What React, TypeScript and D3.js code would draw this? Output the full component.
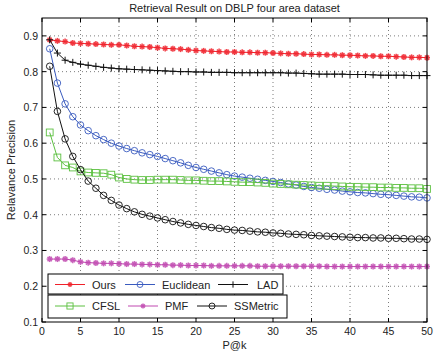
import React from "react";
import * as d3 from "d3";

const ks = d3.range(1, 51);
const xTicks = [0, 5, 10, 15, 20, 25, 30, 35, 40, 45, 50];
const yTicks = [0.1, 0.2, 0.3, 0.4, 0.5, 0.6, 0.7, 0.8, 0.9];

const ours = [
  0.889, 0.886, 0.884, 0.88, 0.879, 0.878, 0.877, 0.876, 0.875, 0.875,
  0.873, 0.871, 0.87, 0.869, 0.867, 0.865, 0.864, 0.863, 0.861, 0.859,
  0.858, 0.857, 0.856, 0.855, 0.855, 0.854, 0.854, 0.853, 0.853, 0.852,
  0.851, 0.85, 0.85, 0.849, 0.848, 0.848, 0.847, 0.847, 0.846, 0.846,
  0.845, 0.844, 0.844, 0.843, 0.843, 0.842, 0.841, 0.84, 0.84, 0.839,
];
const lad = [
  0.889, 0.852, 0.832, 0.826, 0.821, 0.818, 0.815, 0.812, 0.81, 0.808,
  0.807, 0.806, 0.805, 0.804, 0.803, 0.802, 0.801, 0.8, 0.8, 0.799,
  0.799, 0.798, 0.798, 0.798, 0.797, 0.797, 0.797, 0.797, 0.797, 0.797,
  0.797, 0.796, 0.796, 0.795, 0.794, 0.793, 0.793, 0.793, 0.793, 0.792,
  0.792, 0.792, 0.791, 0.79, 0.79, 0.79, 0.79, 0.789, 0.789, 0.789,
];
const euclidean = [
  0.864, 0.768, 0.71, 0.674, 0.651, 0.635, 0.621, 0.61, 0.6, 0.592,
  0.585, 0.579, 0.573, 0.568, 0.563, 0.557, 0.551, 0.545, 0.538, 0.532,
  0.527, 0.522, 0.517, 0.512, 0.508, 0.505, 0.502, 0.499, 0.496, 0.493,
  0.49, 0.486, 0.483, 0.479, 0.476, 0.474, 0.471, 0.469, 0.466, 0.464,
  0.462, 0.461, 0.459, 0.457, 0.456, 0.454, 0.452, 0.45, 0.449, 0.447,
];
const cfsl = [
  0.63, 0.56, 0.538, 0.532, 0.521, 0.518, 0.517, 0.516, 0.512, 0.504,
  0.5, 0.498, 0.497, 0.497, 0.498, 0.498, 0.498, 0.497, 0.496, 0.496,
  0.495, 0.494, 0.494, 0.493, 0.492, 0.491, 0.491, 0.49, 0.489, 0.487,
  0.486, 0.485, 0.484, 0.483, 0.482, 0.481, 0.481, 0.48, 0.479, 0.478,
  0.478, 0.477, 0.477, 0.476, 0.476, 0.475, 0.475, 0.474, 0.474, 0.472,
];
const pmf = [
  0.276, 0.276, 0.276, 0.273, 0.268, 0.266, 0.265, 0.264, 0.264, 0.263,
  0.262, 0.262, 0.261, 0.261, 0.26, 0.26, 0.259, 0.259, 0.258, 0.258,
  0.258, 0.257, 0.257, 0.257, 0.257, 0.257, 0.257, 0.256, 0.256, 0.256,
  0.256, 0.256, 0.256, 0.256, 0.256, 0.256, 0.255, 0.255, 0.255, 0.255,
  0.255, 0.255, 0.255, 0.255, 0.255, 0.255, 0.255, 0.255, 0.255, 0.255,
];
const ssmetric = [
  0.815, 0.689, 0.612, 0.563, 0.526, 0.494, 0.474, 0.454, 0.44, 0.427,
  0.417, 0.408, 0.401, 0.396, 0.391, 0.386, 0.381, 0.377, 0.373, 0.37,
  0.367, 0.364, 0.362, 0.359, 0.357, 0.356, 0.354, 0.352, 0.351, 0.349,
  0.348, 0.346, 0.345, 0.344, 0.342, 0.341, 0.34, 0.339, 0.338, 0.337,
  0.336, 0.336, 0.335, 0.335, 0.334, 0.334, 0.333, 0.332, 0.332, 0.331,
];

type Marker = "star" | "circle" | "plus" | "square";
const seriesList: { name: string; values: number[]; color: string; marker: Marker }[] = [
  { name: "Ours", values: ours, color: "#f0202a", marker: "star" },
  { name: "Euclidean", values: euclidean, color: "#3a5bbf", marker: "circle" },
  { name: "LAD", values: lad, color: "#111111", marker: "plus" },
  { name: "CFSL", values: cfsl, color: "#5cc040", marker: "square" },
  { name: "PMF", values: pmf, color: "#c048b0", marker: "star" },
  { name: "SSMetric", values: ssmetric, color: "#111111", marker: "circle" },
];

const W = 434;
const H = 354;
const L = 42;
const R = 427;
const T = 18;
const B = 322;
const FONT = "'Liberation Sans', Arial, Helvetica, sans-serif";

function MarkerShape({ type, x, y, color, size = 1 }: { type: Marker; x: number; y: number; color: string; size?: number }) {
  if (type === "circle") {
    return <circle cx={x} cy={y} r={3.3 * size} fill="none" stroke={color} strokeWidth={0.9} />;
  }
  if (type === "square") {
    const s = 3.4 * size;
    return <rect x={x - s} y={y - s} width={2 * s} height={2 * s} fill="none" stroke={color} strokeWidth={0.9} />;
  }
  if (type === "plus") {
    const s = 3.5 * size;
    return (
      <g stroke={color} strokeWidth={1}>
        <line x1={x - s} y1={y} x2={x + s} y2={y} />
        <line x1={x} y1={y - s} x2={x} y2={y + s} />
      </g>
    );
  }
  const s = 3 * size;
  const d = s * 0.72;
  return (
    <g stroke={color} strokeWidth={1.5} opacity={0.85}>
      <line x1={x - s} y1={y} x2={x + s} y2={y} />
      <line x1={x} y1={y - s} x2={x} y2={y + s} />
      <line x1={x - d} y1={y - d} x2={x + d} y2={y + d} />
      <line x1={x - d} y1={y + d} x2={x + d} y2={y - d} />
      <circle cx={x} cy={y} r={s * 0.55} fill={color} stroke="none" />
    </g>
  );
}

export default function App() {
  const x = d3.scaleLinear().domain([0, 50]).range([L, R]);
  const y = d3.scaleLinear().domain([0.1, 0.95]).range([B, T]);
  const line = d3
    .line<number>()
    .x((_, i) => x(ks[i]))
    .y((d) => y(d));

  const legendRows = [
    [
      { s: seriesList[0], lx: 55, tx: 92 },
      { s: seriesList[1], lx: 125, tx: 162 },
      { s: seriesList[2], lx: 218, tx: 257 },
    ],
    [
      { s: seriesList[3], lx: 55, tx: 92 },
      { s: seriesList[4], lx: 128, tx: 165 },
      { s: seriesList[5], lx: 197, tx: 234 },
    ],
  ];

  return (
    <svg width={W} height={H} style={{ position: "absolute", left: 0, top: 0, background: "#fff" }} fontFamily={FONT}>
      <rect x={0} y={0} width={W} height={H} fill="#fff" />
      {/* grid */}
      <g stroke="#444" strokeWidth={0.7} strokeDasharray="1,3">
        {xTicks.slice(1, -1).map((t) => (
          <line key={"gx" + t} x1={x(t)} x2={x(t)} y1={T} y2={B} />
        ))}
        {yTicks.slice(1).map((t) => (
          <line key={"gy" + t} x1={L} x2={R} y1={y(t)} y2={y(t)} />
        ))}
      </g>
      {/* ticks */}
      <g stroke="#000" strokeWidth={1}>
        {xTicks.map((t) => (
          <g key={"tx" + t}>
            <line x1={x(t)} x2={x(t)} y1={B} y2={B - 4} />
            <line x1={x(t)} x2={x(t)} y1={T} y2={T + 4} />
          </g>
        ))}
        {yTicks.map((t) => (
          <g key={"ty" + t}>
            <line x1={L} x2={L + 4} y1={y(t)} y2={y(t)} />
            <line x1={R} x2={R - 4} y1={y(t)} y2={y(t)} />
          </g>
        ))}
      </g>
      {/* series */}
      {seriesList.map((s) => (
        <g key={s.name}>
          <path d={line(s.values) || ""} fill="none" stroke={s.color} strokeWidth={1} />
          {s.values.map((v, i) => (
            <MarkerShape key={i} type={s.marker} x={x(ks[i])} y={y(v)} color={s.color} />
          ))}
        </g>
      ))}
      {/* frame */}
      <rect x={L} y={T} width={R - L} height={B - T} fill="none" stroke="#000" strokeWidth={1} />
      {/* tick labels */}
      <g fontSize={10.5} fill="#222">
        {xTicks.map((t) => (
          <text key={"lx" + t} x={x(t)} y={B + 13} textAnchor="middle">
            {t}
          </text>
        ))}
        {yTicks.map((t) => (
          <text key={"ly" + t} x={L - 4} y={y(t) + 4} textAnchor="end">
            {t.toFixed(1)}
          </text>
        ))}
      </g>
      <text x={(L + R) / 2} y={12} textAnchor="middle" fontSize={11} fill="#222">
        Retrieval Result on DBLP four area dataset
      </text>
      <text x={(L + R) / 2} y={349} textAnchor="middle" fontSize={11} fill="#222">
        P@k
      </text>
      <text transform={`translate(15,${(T + B) / 2}) rotate(-90)`} textAnchor="middle" fontSize={11} fill="#222">
        Relavance Precision
      </text>
      {/* legend */}
      <rect x={48} y={274} width={235} height={20} fill="#fff" stroke="#000" strokeWidth={1} />
      <rect x={48} y={295} width={239} height={23} fill="#fff" stroke="#000" strokeWidth={1} />
      {legendRows.map((row, ri) => {
        const cy = ri === 0 ? 284.5 : 306;
        return row.map(({ s, lx, tx }) => (
          <g key={s.name}>
            <line x1={lx} x2={lx + 30} y1={cy} y2={cy} stroke={s.color} strokeWidth={1} />
            <MarkerShape type={s.marker} x={lx + 15} y={cy} color={s.color} size={s.marker === "star" ? 0.8 : 0.9} />
            <text x={tx} y={cy + 4} fontSize={11} fill="#222">
              {s.name}
            </text>
          </g>
        ));
      })}
    </svg>
  );
}
